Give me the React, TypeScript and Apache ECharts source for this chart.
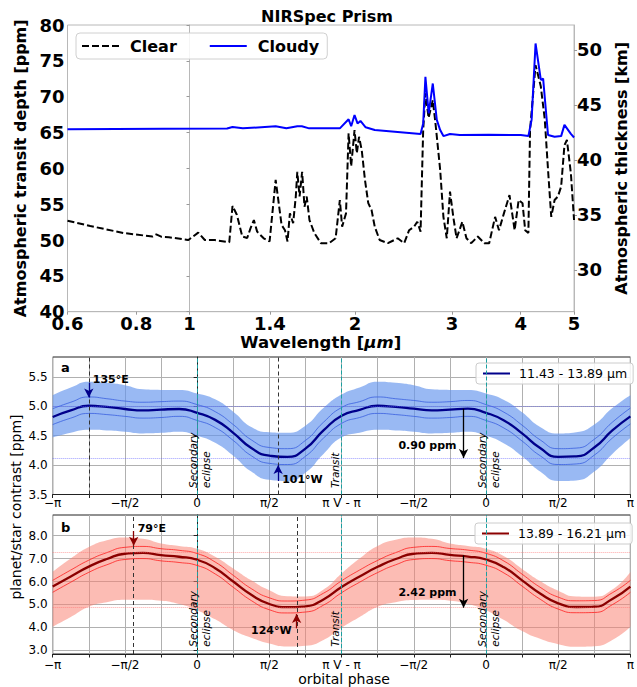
import React, { useEffect, useRef } from 'react';
import * as echarts from 'echarts';

const FONT = 'DejaVu Sans';

// ---------- Top panel: NIRSpec Prism ----------
const wavelengthTicks = [0.6, 0.8, 1, 1.4, 2, 3, 4, 5];
const thicknessTicks = [30, 35, 40, 45, 50];

const clearWavelength = [0.6, 0.66, 0.758, 0.856, 0.87, 0.89, 0.917, 0.995, 1.037, 1.066, 1.111, 1.181, 1.197, 1.219, 1.247, 1.273, 1.291, 1.309, 1.327, 1.364, 1.398, 1.434, 1.45, 1.47, 1.491, 1.507, 1.522, 1.543, 1.56, 1.57, 1.585, 1.602, 1.618, 1.633, 1.652, 1.686, 1.733, 1.793, 1.843, 1.876, 1.894, 1.925, 1.946, 1.967, 1.995, 2.014, 2.033, 2.056, 2.084, 2.113, 2.142, 2.171, 2.216, 2.294, 2.39, 2.456, 2.507, 2.559, 2.594, 2.63, 2.659, 2.684, 2.72, 2.768, 2.797, 2.855, 2.894, 2.935, 2.975, 3.016, 3.058, 3.133, 3.187, 3.252, 3.341, 3.434, 3.505, 3.593, 3.652, 3.728, 3.816, 3.899, 3.965, 4.03, 4.075, 4.13, 4.159, 4.256, 4.35, 4.423, 4.484, 4.545, 4.609, 4.673, 4.737, 4.803, 4.853, 4.934, 5.0];
const clearDepth = [52.69, 51.96, 50.98, 50.49, 50.78, 50.44, 50.39, 50.0, 51.03, 50.0, 50.0, 49.7, 54.75, 53.53, 50.49, 50.29, 51.66, 52.79, 51.17, 50.24, 49.8, 58.38, 55.58, 52.1, 51.37, 49.8, 53.72, 52.35, 56.07, 59.5, 56.07, 59.5, 54.65, 56.07, 52.79, 50.98, 49.56, 49.56, 50.24, 55.58, 51.86, 53.72, 64.9, 60.29, 65.34, 62.1, 64.4, 62.54, 58.38, 55.14, 54.21, 51.86, 50.0, 49.56, 50.24, 49.56, 51.37, 51.86, 52.55, 51.17, 65.34, 70.48, 67.05, 69.5, 66.55, 59.8, 53.23, 50.24, 56.76, 53.23, 50.24, 52.55, 50.24, 49.56, 50.49, 49.56, 49.56, 53.23, 51.37, 53.72, 56.27, 51.37, 55.58, 55.14, 51.37, 50.98, 65.34, 74.4, 71.46, 66.86, 59.8, 53.23, 55.58, 56.07, 57.45, 63.23, 63.96, 59.31, 52.79];

const cloudyWavelength = [0.6, 0.9, 1.17, 1.197, 1.25, 1.434, 1.5, 1.57, 1.6, 1.65, 1.876, 1.946, 1.967, 1.995, 2.02, 2.045, 2.09, 2.171, 2.63, 2.659, 2.684, 2.721, 2.768, 2.815, 2.855, 2.894, 2.975, 3.1, 3.5, 4.0, 4.13, 4.186, 4.256, 4.351, 4.393, 4.484, 4.609, 4.737, 4.803, 4.934, 5.0];
const cloudyDepth = [65.44, 65.53, 65.55, 65.78, 65.58, 65.87, 65.58, 65.87, 65.87, 65.58, 65.58, 66.85, 65.87, 67.44, 66.27, 66.61, 65.73, 65.34, 64.8, 66.27, 72.77, 67.66, 71.84, 66.76, 65.34, 64.5, 64.8, 64.65, 64.7, 64.65, 64.5, 66.76, 77.42, 72.33, 72.53, 64.65, 64.4, 64.5, 66.07, 64.8, 64.31];

// ---------- Phase curves (orbital phase in units of pi) ----------
const phase = [-1, -0.875, -0.75, -0.625, -0.5, -0.375, -0.25, -0.125, 0, 0.125, 0.25, 0.375, 0.5, 0.625, 0.75, 0.875, 1, 1.125, 1.25, 1.375, 1.5, 1.625, 1.75, 1.875, 2, 2.125, 2.25, 2.375, 2.5, 2.625, 2.75, 2.875, 3];
const phaseTickValues = [-1, -0.5, 0, 0.5, 1, 1.5, 2, 2.5, 3];
const phaseTickLabels = ['−π', '−π/2', '0', 'π/2', 'π V - π', '−π/2', '0', 'π/2', 'π'];

const aCenter = [4.82, 4.93, 5.01, 4.99, 4.955, 4.93, 4.945, 4.955, 4.89, 4.77, 4.55, 4.29, 4.16, 4.14, 4.28, 4.59, 4.84, 4.94, 5.01, 4.99, 4.96, 4.93, 4.945, 4.96, 4.89, 4.76, 4.54, 4.29, 4.14, 4.15, 4.30, 4.59, 4.83];
const aInnerUpper = [4.96, 5.07, 5.16, 5.13, 5.09, 5.07, 5.08, 5.09, 5.03, 4.91, 4.69, 4.43, 4.30, 4.28, 4.42, 4.73, 4.98, 5.08, 5.16, 5.13, 5.10, 5.07, 5.08, 5.10, 5.03, 4.90, 4.68, 4.43, 4.28, 4.29, 4.44, 4.73, 4.97];
const aInnerLower = [4.69, 4.80, 4.88, 4.86, 4.83, 4.80, 4.81, 4.83, 4.76, 4.64, 4.42, 4.16, 4.03, 4.01, 4.15, 4.46, 4.71, 4.81, 4.88, 4.86, 4.83, 4.80, 4.81, 4.83, 4.76, 4.63, 4.41, 4.16, 4.01, 4.02, 4.17, 4.46, 4.70];
const aUpper = [5.19, 5.32, 5.42, 5.40, 5.36, 5.29, 5.28, 5.28, 5.22, 5.12, 4.91, 4.65, 4.56, 4.55, 4.67, 4.97, 5.20, 5.32, 5.42, 5.40, 5.36, 5.29, 5.28, 5.28, 5.22, 5.11, 4.90, 4.65, 4.54, 4.56, 4.69, 4.97, 5.19];
const aLower = [4.47, 4.55, 4.60, 4.59, 4.57, 4.54, 4.55, 4.57, 4.50, 4.38, 4.16, 3.89, 3.75, 3.73, 3.87, 4.19, 4.47, 4.55, 4.60, 4.59, 4.57, 4.54, 4.55, 4.57, 4.50, 4.37, 4.15, 3.89, 3.73, 3.74, 3.89, 4.19, 4.46];

const bCenter = [5.78, 6.22, 6.65, 6.98, 7.21, 7.25, 7.15, 7.08, 6.95, 6.58, 6.00, 5.42, 5.02, 4.88, 4.92, 5.22, 5.76, 6.22, 6.64, 6.98, 7.21, 7.25, 7.16, 7.09, 6.96, 6.62, 6.05, 5.48, 5.05, 4.89, 4.90, 5.24, 5.78];
const bInnerUpper = [6.05, 6.50, 6.93, 7.26, 7.49, 7.53, 7.43, 7.36, 7.22, 6.85, 6.27, 5.69, 5.29, 5.15, 5.19, 5.49, 6.03, 6.50, 6.92, 7.26, 7.49, 7.53, 7.44, 7.37, 7.23, 6.89, 6.32, 5.75, 5.32, 5.16, 5.17, 5.51, 6.05];
const bInnerLower = [5.53, 5.97, 6.40, 6.73, 6.96, 7.00, 6.90, 6.83, 6.70, 6.33, 5.75, 5.17, 4.77, 4.63, 4.67, 4.97, 5.51, 5.97, 6.39, 6.73, 6.96, 7.00, 6.91, 6.84, 6.71, 6.37, 5.80, 5.23, 4.80, 4.64, 4.65, 4.99, 5.53];
const bUpper = [6.42, 7.00, 7.50, 7.80, 7.92, 7.86, 7.66, 7.55, 7.43, 7.08, 6.57, 6.05, 5.62, 5.36, 5.35, 5.65, 6.35, 7.00, 7.55, 7.82, 7.92, 7.86, 7.66, 7.55, 7.43, 7.10, 6.55, 6.02, 5.60, 5.35, 5.34, 5.65, 6.42];
const bLower = [4.03, 4.45, 4.90, 5.10, 5.20, 5.21, 5.16, 5.02, 4.75, 4.35, 3.88, 3.55, 3.30, 3.17, 3.20, 3.45, 3.98, 4.45, 4.90, 5.10, 5.19, 5.20, 5.16, 5.02, 4.75, 4.32, 3.84, 3.50, 3.27, 3.16, 3.18, 3.45, 4.03];

const aTicks = [3.5, 4.0, 4.5, 5.0, 5.5];
const bTicks = [3, 4, 5, 6, 7, 8];

// annotation values
const aExtremaPhase = [-0.75, 0.561];
const aExtremaValue = [5.01, 4.12];
const bExtremaPhase = [-0.439, 0.689];
const bExtremaValue = [7.26, 4.86];
const eclipsePhases = [0, 2];
const transitPhases = [1];
const amplitudePhase = 1.845;
const nameA = '11.43 - 13.89 μm';
const nameB = '13.89 - 16.21 μm';

const SMOOTH = 0.55;
const pts = (xs: number[], ys: number[]) => xs.map((x, i) => [x, ys[i]]);

export default function App() {
  const ref = useRef<HTMLDivElement>(null);

  useEffect(() => {
    document.body.style.margin = '0';
    if (!ref.current) return;
    const chart = echarts.init(ref.current, null, { renderer: 'svg' });

    const wlPos = wavelengthTicks.map((t) => Math.log10(t));
    const wlFmt = (v: number) => {
      const i = wlPos.findIndex((p) => Math.abs(p - v) < 1e-6);
      return i >= 0 ? String(wavelengthTicks[i]) : '';
    };
    const phaseFmt = (v: number) => {
      const i = phaseTickValues.findIndex((p) => Math.abs(p - v) < 1e-6);
      return i >= 0 ? phaseTickLabels[i] : '';
    };

    const topAxisLine = { show: true, lineStyle: { color: '#b8b8b8' } };
    const topTick = { show: true, length: 3, lineStyle: { color: '#999' } };
    const topLabel = { fontSize: 18, fontWeight: 'bold', color: '#000', fontFamily: FONT, margin: 3 };
    const botLine = { show: true, lineStyle: { color: '#222' } };
    const botTick = { show: true, length: 3.5, lineStyle: { color: '#222' } };
    const botSplit = { show: true, lineStyle: { color: '#b0b0b0', width: 1 } };

    const phaseX = (gridIndex: number, margin: number) => ({
      type: 'value', gridIndex, min: -1, max: 3, interval: 0.25,
      axisLine: botLine, axisTick: botTick, splitLine: botSplit,
      axisLabel: { formatter: phaseFmt, fontSize: 12, color: '#000', fontFamily: FONT, margin, showMinLabel: true, showMaxLabel: true },
    });
    // hidden category axis at the same phase samples, used for stacking the uncertainty bands
    const bandX = (gridIndex: number) => ({
      type: 'category', gridIndex, data: phase.map(String), boundaryGap: false, show: false,
      axisLine: { show: false }, axisTick: { show: false }, axisLabel: { show: false }, splitLine: { show: false },
    });

    const vline = (x: number, color: string, dash: number[]) => ({
      xAxis: x, lineStyle: { color, type: dash, width: 1 },
    });
    const arrow = (x: number, y1: number, y2: number, color: string) => [
      { coord: [x, y1], symbol: 'none', lineStyle: { color, width: 1.3, type: 'solid' } },
      { coord: [x, y2], symbol: 'arrow', symbolSize: [7, 9], lineStyle: { color, width: 1.3, type: 'solid' }, itemStyle: { color } },
    ];
    const txt = (x: number, y: number, text: string, extra: any) => ({
      coord: [x, y], value: 0,
      label: { show: true, formatter: text, color: '#000', fontFamily: FONT, ...extra },
    });
    const boldTxt = (x: number, y: number, text: string, position: string, distance: number) =>
      txt(x, y, text, { position, distance, fontWeight: 'bold', fontSize: 11 });
    const rotTxt = (x: number, y: number, text: string, va: string) =>
      txt(x, y, text, { position: 'inside', rotate: 90, align: 'left', verticalAlign: va, fontStyle: 'italic', fontSize: 10.5, lineHeight: 13 });

    const bandSeries = (
      key: string, xi: number, yi: number, lower: number[], upper: number[],
      bandColor: string, dotted: number[], dotColor: string
    ) => [
      {
        name: key + '-lower', type: 'line', xAxisIndex: xi, yAxisIndex: yi, stack: key,
        data: lower, smooth: SMOOTH, symbol: 'none', lineStyle: { width: 0, opacity: 0 }, silent: true,
        markLine: {
          silent: true, symbol: ['none', 'none'], label: { show: false }, animation: false,
          lineStyle: { color: dotColor, type: 'dotted', width: 1 },
          data: dotted.map((v) => ({ yAxis: v })),
        },
      },
      {
        name: key + '-band', type: 'line', xAxisIndex: xi, yAxisIndex: yi, stack: key,
        data: upper.map((u, i) => +(u - lower[i]).toFixed(3)), smooth: SMOOTH, symbol: 'none',
        lineStyle: { width: 0, opacity: 0 }, areaStyle: { color: bandColor, opacity: 1 }, silent: true,
      },
    ];
    const thin = (name: string, xi: number, yi: number, ys: number[], color: string) => ({
      name, type: 'line', xAxisIndex: xi, yAxisIndex: yi, data: pts(phase, ys), smooth: SMOOTH,
      symbol: 'none', lineStyle: { color, width: 0.8 }, silent: true,
    });

    const legendBase = { selectedMode: false, itemStyle: { opacity: 0 } };

    const option: any = {
      animation: false,
      textStyle: { fontFamily: FONT },
      grid: [
        { left: 67.5, top: 25, width: 519.2, height: 286.7, show: true, borderColor: '#b8b8b8', borderWidth: 1 },
        { left: 52.7, top: 357, width: 582.6, height: 137.5, show: true, borderColor: '#222', borderWidth: 1 },
        { left: 52.7, top: 515, width: 582.6, height: 139, show: true, borderColor: '#222', borderWidth: 1 },
      ],
      legend: [
        {
          ...legendBase,
          data: ['Clear', 'Cloudy'], left: 76, top: 33, orient: 'horizontal',
          itemWidth: 37, itemHeight: 14, itemGap: 32, padding: [5, 8, 5, 5],
          backgroundColor: 'rgba(255,255,255,0.85)', borderColor: '#d0d0d0', borderWidth: 1, borderRadius: 4,
          textStyle: { fontSize: 16, fontWeight: 'bold', color: '#000', fontFamily: FONT, padding: [0, 0, 0, 6] },
        },
        {
          ...legendBase,
          data: [nameA], left: 476, top: 363,
          itemWidth: 27, itemHeight: 10, padding: [4, 6, 4, 6],
          backgroundColor: 'rgba(255,255,255,0.85)', borderColor: '#cccccc', borderWidth: 1, borderRadius: 3,
          textStyle: { fontSize: 12.5, color: '#000', fontFamily: FONT, padding: [0, 0, 0, 4] },
        },
        {
          ...legendBase,
          data: [nameB], left: 475, top: 523,
          itemWidth: 27, itemHeight: 10, padding: [4, 6, 4, 6],
          backgroundColor: 'rgba(255,255,255,0.85)', borderColor: '#cccccc', borderWidth: 1, borderRadius: 3,
          textStyle: { fontSize: 12.5, color: '#000', fontFamily: FONT, padding: [0, 0, 0, 4] },
        },
      ],
      xAxis: [
        {
          type: 'value', gridIndex: 0, min: Math.log10(0.6), max: Math.log10(5),
          axisLine: topAxisLine, axisTick: { ...topTick, customValues: wlPos },
          axisLabel: { ...topLabel, customValues: wlPos, formatter: wlFmt, showMinLabel: true, showMaxLabel: true },
          splitLine: { show: false },
          name: 'Wavelength [{i|μm}]', nameLocation: 'middle', nameGap: 20,
          nameTextStyle: {
            fontSize: 16.5, fontWeight: 'bold', color: '#000', fontFamily: FONT,
            rich: { i: { fontSize: 16.5, fontWeight: 'bold', fontStyle: 'italic', color: '#000', fontFamily: FONT } },
          },
        },
        phaseX(1, 2),
        phaseX(2, 5),
        bandX(1),
        bandX(2),
      ],
      yAxis: [
        {
          type: 'value', gridIndex: 0, min: 40, max: 80, interval: 5,
          axisLine: topAxisLine, axisTick: topTick, axisLabel: topLabel, splitLine: { show: false },
          name: 'Atmospheric transit depth [ppm]', nameLocation: 'middle', nameGap: 32, nameRotate: 90,
          nameTextStyle: { fontSize: 16, fontWeight: 'bold', color: '#000', fontFamily: FONT },
        },
        {
          type: 'value', gridIndex: 0, position: 'right', min: 26.2, max: 52.27,
          axisLine: topAxisLine, axisTick: { ...topTick, customValues: thicknessTicks },
          axisLabel: { ...topLabel, customValues: thicknessTicks }, splitLine: { show: false },
          name: 'Atmospheric thickness [km]', nameLocation: 'middle', nameGap: 29, nameRotate: 90,
          nameTextStyle: { fontSize: 16, fontWeight: 'bold', color: '#000', fontFamily: FONT },
        },
        {
          type: 'value', gridIndex: 1, min: 3.5, max: 5.84, interval: 0.5,
          axisLine: botLine, axisTick: { ...botTick, customValues: aTicks }, splitLine: botSplit,
          axisLabel: { customValues: aTicks, formatter: (v: number) => v.toFixed(1), fontSize: 12, color: '#000', fontFamily: FONT, margin: 5 },
        },
        {
          type: 'value', gridIndex: 2, min: 2.84, max: 8.9, splitNumber: 6,
          axisLine: botLine, axisTick: { ...botTick, customValues: bTicks }, splitLine: botSplit,
          axisLabel: { customValues: bTicks, formatter: (v: number) => v.toFixed(1), fontSize: 12, color: '#000', fontFamily: FONT, margin: 5 },
        },
      ],
      series: [
        {
          name: 'Clear', type: 'line', xAxisIndex: 0, yAxisIndex: 0,
          data: pts(clearWavelength.map((w) => Math.log10(w)), clearDepth),
          symbol: 'none', lineStyle: { color: '#000', width: 2, type: [7, 3] }, itemStyle: { color: '#000' },
        },
        {
          name: 'Cloudy', type: 'line', xAxisIndex: 0, yAxisIndex: 0,
          data: pts(cloudyWavelength.map((w) => Math.log10(w)), cloudyDepth),
          symbol: 'none', lineStyle: { color: '#0000ff', width: 2 }, itemStyle: { color: '#0000ff' },
        },
        // panel a
        ...bandSeries('bandA', 3, 2, aLower, aUpper, 'rgba(100,149,237,0.66)', aExtremaValue, 'rgba(90,90,255,0.6)'),
        thin('a-inner-upper', 1, 2, aInnerUpper, '#3a5fe0'),
        thin('a-inner-lower', 1, 2, aInnerLower, '#3a5fe0'),
        {
          name: nameA, type: 'line', xAxisIndex: 1, yAxisIndex: 2, data: pts(phase, aCenter), smooth: SMOOTH,
          symbol: 'none', lineStyle: { color: '#00008b', width: 2.3 }, itemStyle: { color: '#00008b' },
          markLine: {
            silent: true, symbol: ['none', 'none'], label: { show: false }, animation: false,
            data: [
              ...eclipsePhases.map((p) => vline(p, '#1aa0a0', [4, 2])),
              ...transitPhases.map((p) => vline(p, '#1aa0a0', [4, 2])),
              ...aExtremaPhase.map((p) => vline(p, '#333', [4, 3])),
              arrow(aExtremaPhase[0], 5.40, 5.15, '#00008b'),
              arrow(aExtremaPhase[1], 3.73, 4.0, '#00008b'),
              arrow(amplitudePhase, 4.96, aExtremaValue[1], '#000'),
            ],
          },
          markPoint: {
            silent: true, symbol: 'circle', symbolSize: 0, itemStyle: { color: 'rgba(0,0,0,0)' }, animation: false,
            data: [
              boldTxt(aExtremaPhase[0], 5.45, '135°E', 'right', 4),
              boldTxt(aExtremaPhase[1], 3.75, '101°W', 'right', 4),
              boldTxt(amplitudePhase, 4.34, '0.90 ppm', 'left', 7),
              ...eclipsePhases.map((p) => rotTxt(p + 0.015, 3.61, 'Secondary\neclipse', 'middle')),
              ...transitPhases.map((p) => rotTxt(p, 3.61, 'Transit', 'bottom')),
            ],
          },
        },
        // panel b
        ...bandSeries('bandB', 4, 3, bLower, bUpper, 'rgba(250,128,114,0.53)', bExtremaValue, 'rgba(255,110,110,0.6)'),
        thin('b-inner-upper', 2, 3, bInnerUpper, '#ff2020'),
        thin('b-inner-lower', 2, 3, bInnerLower, '#ff2020'),
        {
          name: nameB, type: 'line', xAxisIndex: 2, yAxisIndex: 3, data: pts(phase, bCenter), smooth: SMOOTH,
          symbol: 'none', lineStyle: { color: '#8b0000', width: 2.3 }, itemStyle: { color: '#8b0000' },
          markLine: {
            silent: true, symbol: ['none', 'none'], label: { show: false }, animation: false,
            data: [
              ...eclipsePhases.map((p) => vline(p, '#1aa0a0', [4, 2])),
              ...transitPhases.map((p) => vline(p, '#1aa0a0', [4, 2])),
              ...bExtremaPhase.map((p) => vline(p, '#333', [4, 3])),
              arrow(bExtremaPhase[0], 8.2, 7.56, '#8b0000'),
              arrow(bExtremaPhase[1], 3.96, 4.58, '#8b0000'),
              arrow(amplitudePhase, 7.14, bExtremaValue[1], '#000'),
            ],
          },
          markPoint: {
            silent: true, symbol: 'circle', symbolSize: 0, itemStyle: { color: 'rgba(0,0,0,0)' }, animation: false,
            data: [
              boldTxt(bExtremaPhase[0], 8.3, '79°E', 'right', 4),
              boldTxt(bExtremaPhase[1], 3.88, '124°W', 'left', 5),
              boldTxt(amplitudePhase, 5.51, '2.42 ppm', 'left', 7),
              ...eclipsePhases.map((p) => rotTxt(p + 0.015, 3.16, 'Secondary\neclipse', 'middle')),
              ...transitPhases.map((p) => rotTxt(p, 3.16, 'Transit', 'bottom')),
            ],
          },
        },
      ],
      graphic: [
        { type: 'text', x: 327, y: 16, silent: true, style: { text: 'NIRSpec Prism', fontSize: 16, fontWeight: 'bold', fontFamily: FONT, fill: '#000', align: 'center', verticalAlign: 'middle' } },
        { type: 'text', x: 61, y: 367, silent: true, style: { text: 'a', fontSize: 13, fontWeight: 'bold', fontFamily: FONT, fill: '#000', align: 'left', verticalAlign: 'middle' } },
        { type: 'text', x: 61, y: 527, silent: true, style: { text: 'b', fontSize: 13, fontWeight: 'bold', fontFamily: FONT, fill: '#000', align: 'left', verticalAlign: 'middle' } },
        { type: 'text', x: 16, y: 507, rotation: Math.PI / 2, silent: true, style: { text: 'planet/star contrast [ppm]', fontSize: 14, fontFamily: FONT, fill: '#000', align: 'center', verticalAlign: 'middle' } },
        { type: 'text', x: 344, y: 679, silent: true, style: { text: 'orbital phase', fontSize: 14, fontFamily: FONT, fill: '#000', align: 'center', verticalAlign: 'middle' } },
      ],
    };

    chart.setOption(option);
    return () => chart.dispose();
  }, []);

  return <div ref={ref} style={{ width: 637, height: 687 }} />;
}
